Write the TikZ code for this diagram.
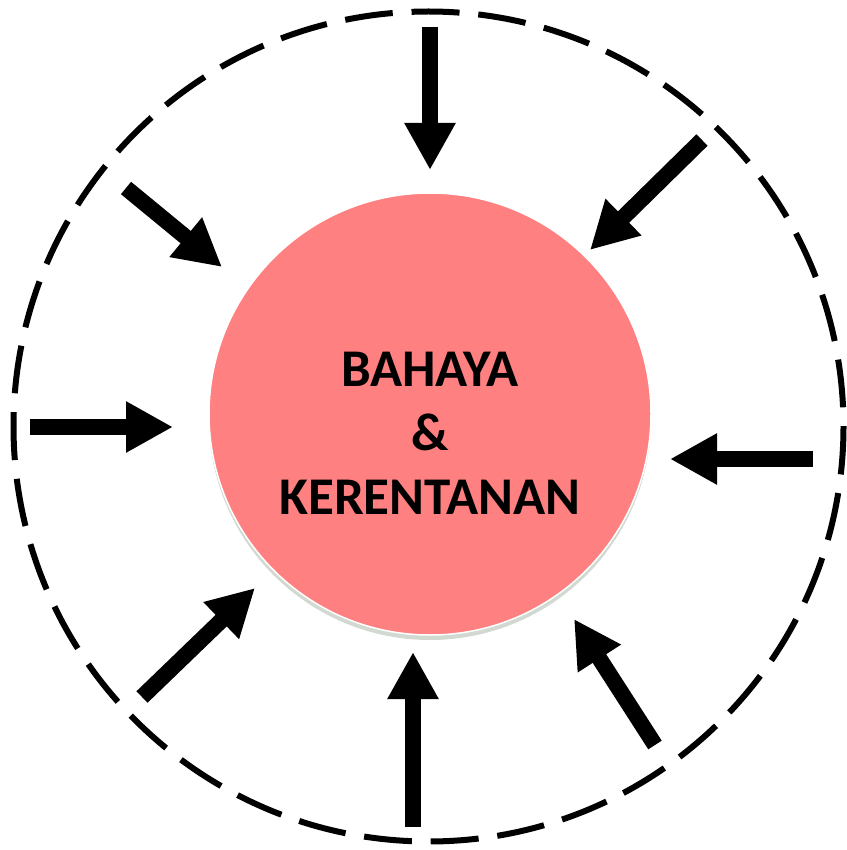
\documentclass[tikz,border=0pt]{standalone}
\usepackage{fontspec}
\setmainfont{Carlito}
\usetikzlibrary{arrows.meta, shadows}
\definecolor{hazardred}{RGB}{255,128,128}

\begin{document}
\begin{tikzpicture}[
      x=1pt, y=-1pt,
      ring/.style={draw, line width=6pt, dash pattern=on 48pt off 18.86pt},
      core/.style={circle, fill=hazardred, draw=white, line width=1.5pt,
                   minimum size=442pt, inner sep=0pt,
                   drop shadow={opacity=0.3, shadow xshift=0pt, shadow yshift=-5pt,
                                fill=black!50!green!20!gray}},
      title/.style={align=center, inner sep=0pt,
                    font=\fontsize{53}{64}\selectfont\bfseries},
      push/.style={-{Triangle[length=47pt, width=48pt]}, line width=16pt}
    ]
    \useasboundingbox (0,0) rectangle (846,850);

    % outer dashed ring and the core
    \draw[ring] (428.5,426.5) circle (415);
    \node[core] (core) at (430,414) {};
    \node[title] (txt) at (430,433) {BAHAYA\\\&\\KERENTANAN};

    % arrow ends, clockwise from the top
    \coordinate (topS) at (430,27);   \coordinate (topE) at (430,170);
    \coordinate (trS)  at (702,140);  \coordinate (trE)  at (590,250);
    \coordinate (rS)   at (813,459);  \coordinate (rE)   at (670,459);
    \coordinate (brS)  at (655,745);  \coordinate (brE)  at (574,619);
    \coordinate (botS) at (413,827);  \coordinate (botE) at (413,652);
    \coordinate (blS)  at (142,697);  \coordinate (blE)  at (255,588);
    \coordinate (lS)   at (30,427);   \coordinate (lE)   at (173,427);
    \coordinate (tlS)  at (126,188);  \coordinate (tlE)  at (222,267);

    \draw[push] (topS) -- (topE);
    \draw[push] (trS)  -- (trE);
    \draw[push] (rS)   -- (rE);
    \draw[push] (brS)  -- (brE);
    \draw[push] (botS) -- (botE);
    \draw[push] (blS)  -- (blE);
    \draw[push] (lS)   -- (lE);
    \draw[push] (tlS)  -- (tlE);
  \end{tikzpicture}
\end{document}
